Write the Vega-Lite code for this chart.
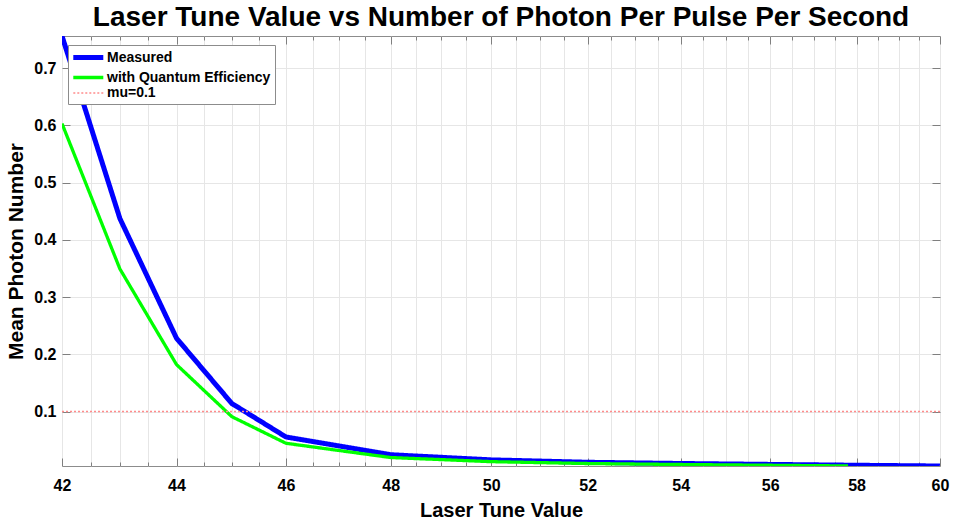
{
  "$schema": "https://vega.github.io/schema/vega-lite/v6.json",
  "width": 878,
  "height": 430,
  "autosize": "none",
  "padding": {"left": 62, "top": 36, "right": 14, "bottom": 54},
  "background": "white",
  "config": {
    "font": "Liberation Sans",
    "view": {"stroke": "#8c8c8c", "strokeWidth": 1}
  },
  "title": {
    "text": "Laser Tune Value vs Number of Photon Per Pulse Per Second",
    "font": "Liberation Sans",
    "fontSize": 28,
    "fontWeight": "bold",
    "color": "#000000",
    "anchor": "middle",
    "offset": 4
  },
  "data": {
    "values": [
      {"x": 42, "y": 0.756, "series": "Measured"},
      {"x": 43, "y": 0.437, "series": "Measured"},
      {"x": 44, "y": 0.228, "series": "Measured"},
      {"x": 45, "y": 0.114, "series": "Measured"},
      {"x": 46, "y": 0.0555, "series": "Measured"},
      {"x": 48, "y": 0.0245, "series": "Measured"},
      {"x": 50, "y": 0.0155, "series": "Measured"},
      {"x": 52, "y": 0.0113, "series": "Measured"},
      {"x": 54, "y": 0.0092, "series": "Measured"},
      {"x": 56, "y": 0.0076, "series": "Measured"},
      {"x": 58, "y": 0.0061, "series": "Measured"},
      {"x": 60, "y": 0.0048, "series": "Measured"},
      {"x": 42, "y": 0.603, "series": "with Quantum Efficiency"},
      {"x": 43, "y": 0.349, "series": "with Quantum Efficiency"},
      {"x": 44, "y": 0.182, "series": "with Quantum Efficiency"},
      {"x": 45, "y": 0.091, "series": "with Quantum Efficiency"},
      {"x": 46, "y": 0.0445, "series": "with Quantum Efficiency"},
      {"x": 48, "y": 0.0196, "series": "with Quantum Efficiency"},
      {"x": 50, "y": 0.0124, "series": "with Quantum Efficiency"},
      {"x": 52, "y": 0.0091, "series": "with Quantum Efficiency"},
      {"x": 54, "y": 0.0074, "series": "with Quantum Efficiency"},
      {"x": 56, "y": 0.0061, "series": "with Quantum Efficiency"},
      {"x": 57.8, "y": 0.0049, "series": "with Quantum Efficiency"},
      {"x": 42, "y": 0.1, "series": "mu=0.1"},
      {"x": 60, "y": 0.1, "series": "mu=0.1"}
    ]
  },
  "layer": [
    {
      "mark": {"type": "line", "clip": true},
      "encoding": {
        "x": {
          "field": "x",
          "type": "quantitative",
          "scale": {"type": "log", "domain": [42, 60], "nice": false, "zero": false},
          "axis": {
            "title": "Laser Tune Value",
            "titleFont": "Liberation Sans",
            "titleFontSize": 20,
            "titleFontWeight": "bold",
            "titleColor": "#000000",
            "titlePadding": 3,
            "values": [42, 42.5, 43, 43.5, 44, 44.5, 45, 45.5, 46, 46.5, 47, 47.5, 48, 48.5, 49, 49.5, 50, 50.5, 51, 51.5, 52, 52.5, 53, 53.5, 54, 54.5, 55, 55.5, 56, 56.5, 57, 57.5, 58, 58.5, 59, 59.5, 60],
            "labelExpr": "datum.value % 2 == 0 ? datum.value : ''",
            "labelFont": "Liberation Sans",
            "labelFontSize": 16,
            "labelFontWeight": "bold",
            "labelColor": "#000000",
            "labelPadding": 19,
            "labelFlush": false,
            "labelOverlap": false,
            "grid": true,
            "gridColor": "#e6e6e6",
            "gridWidth": 1,
            "domain": false,
            "tickColor": "#7f7f7f",
            "tickSize": {"condition": {"test": "datum.value % 2 == 0", "value": -8}, "value": -4}
          }
        },
        "y": {
          "field": "y",
          "type": "quantitative",
          "scale": {"domain": [0.0048, 0.756], "nice": false, "zero": false},
          "axis": {
            "title": "Mean Photon Number",
            "titleFont": "Liberation Sans",
            "titleFontSize": 21,
            "titleFontWeight": "bold",
            "titleColor": "#000000",
            "titlePadding": 7,
            "values": [0.1, 0.2, 0.3, 0.4, 0.5, 0.6, 0.7],
            "format": ".1f",
            "labelFont": "Liberation Sans",
            "labelFontSize": 16,
            "labelFontWeight": "bold",
            "labelColor": "#000000",
            "labelPadding": 14,
            "grid": true,
            "gridColor": "#e6e6e6",
            "domain": false,
            "tickColor": "#7f7f7f",
            "tickSize": -8
          }
        },
        "color": {
          "field": "series",
          "type": "nominal",
          "scale": {"domain": ["Measured", "with Quantum Efficiency", "mu=0.1"], "range": ["#0000ff", "#00ff00", "#ff8c8c"]},
          "legend": {
            "title": null,
            "orient": "none",
            "legendX": 6,
            "legendY": 9,
            "fillColor": "white",
            "strokeColor": "#8c8c8c",
            "padding": 4,
            "symbolType": "M-1.2,0H3.8",
            "symbolSize": 144,
            "labelFont": "Liberation Sans",
            "labelFontSize": 14,
            "labelFontWeight": "bold",
            "labelColor": "#000000",
            "labelLimit": 0,
            "rowPadding": 1.5,
            "labelOffset": 18
          }
        },
        "strokeWidth": {
          "field": "series",
          "type": "nominal",
          "scale": {"domain": ["Measured", "with Quantum Efficiency", "mu=0.1"], "range": [5, 1.6, 1]}
        },
        "strokeDash": {
          "field": "series",
          "type": "nominal",
          "scale": {"domain": ["Measured", "with Quantum Efficiency", "mu=0.1"], "range": [[1, 0], [1, 0], [2, 2]]}
        }
      }
    },
    {
      "mark": {"type": "line", "opacity": 0},
      "encoding": {
        "x": {
          "field": "x",
          "type": "quantitative",
          "axis": {
            "orient": "top",
            "title": null,
            "labels": false,
            "grid": false,
            "domain": false,
            "values": [42, 42.5, 43, 43.5, 44, 44.5, 45, 45.5, 46, 46.5, 47, 47.5, 48, 48.5, 49, 49.5, 50, 50.5, 51, 51.5, 52, 52.5, 53, 53.5, 54, 54.5, 55, 55.5, 56, 56.5, 57, 57.5, 58, 58.5, 59, 59.5, 60],
            "tickColor": "#7f7f7f",
            "tickSize": {"condition": {"test": "datum.value % 2 == 0", "value": -8}, "value": -4}
          }
        },
        "y": {
          "field": "y",
          "type": "quantitative",
          "axis": {
            "orient": "right",
            "title": null,
            "labels": false,
            "grid": false,
            "domain": false,
            "values": [0.1, 0.2, 0.3, 0.4, 0.5, 0.6, 0.7],
            "tickColor": "#7f7f7f",
            "tickSize": -8
          }
        },
        "detail": {"field": "series", "type": "nominal"}
      }
    }
  ],
  "resolve": {"axis": {"x": "independent", "y": "independent"}}
}
